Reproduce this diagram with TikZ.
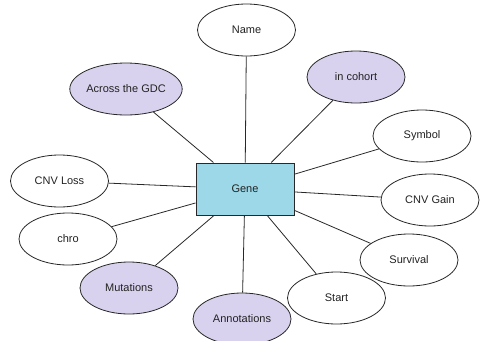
\documentclass[tikz,border=0pt]{standalone}
\usepackage{fontspec}
\setmainfont{Liberation Sans}
\usetikzlibrary{shapes.geometric}
\definecolor{attrline}{RGB}{40,40,40}
\definecolor{lavender}{RGB}{217,210,238}
\definecolor{genefill}{RGB}{156,216,232}
\definecolor{labeltext}{RGB}{34,34,34}
\begin{document}
\begin{tikzpicture}[x=1pt,y=-1pt,
  attr/.style={ellipse,draw=attrline,line width=0.8pt,fill=white,
    minimum width=98pt,minimum height=52pt,inner sep=0pt,
    font=\fontsize{11}{13}\selectfont,text=labeltext},
  hilite/.style={attr,fill=lavender},
  entity/.style={rectangle,draw=attrline,line width=1pt,fill=genefill,
    minimum width=98pt,minimum height=52pt,inner sep=0pt,
    font=\fontsize{11}{13}\selectfont,text=labeltext},
  link/.style={draw=attrline,line width=0.8pt}]
\useasboundingbox (0,0) rectangle (497,340);
\clip (0,0) rectangle (497,340);
\node[entity] (gene) at (245,189) {Gene};
\node[attr]   (name)     at (246.5,30) {Name};
\node[hilite] (across)   at (126,89)   {Across the GDC};
\node[hilite] (cohort)   at (356,77)   {in cohort};
\node[attr]   (symbol)   at (422,136)  {Symbol};
\node[attr]   (cnvloss)  at (59.5,181) {CNV Loss};
\node[attr]   (cnvgain)  at (430,200)  {CNV Gain};
\node[attr]   (chro)     at (68,239)   {chro};
\node[attr]   (survival) at (409,260)  {Survival};
\node[hilite] (mutations) at (129,288) {Mutations};
\node[attr]   (start)    at (336.5,298) {Start};
\node[hilite] (annot)    at (242,319)  {Annotations};
\foreach \n in {name,across,cohort,symbol,cnvloss,cnvgain,chro,survival,mutations,start,annot}
  \draw[link] (gene) -- (\n);
\end{tikzpicture}
\end{document}
